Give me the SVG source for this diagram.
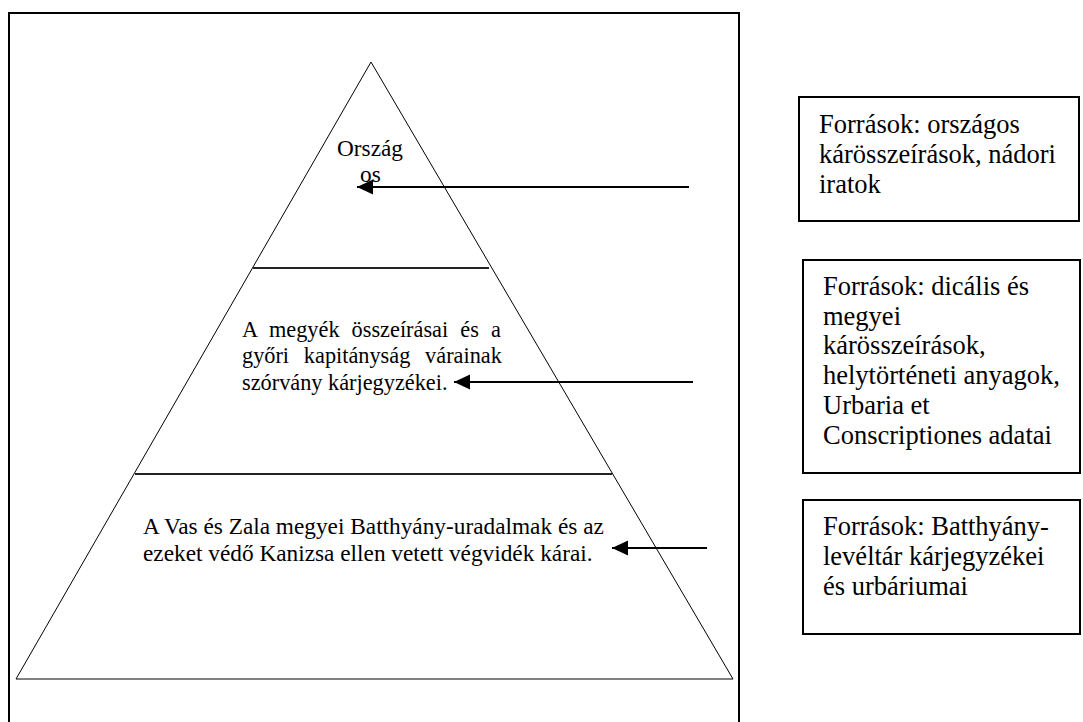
<svg xmlns="http://www.w3.org/2000/svg" width="1083" height="722" viewBox="0 0 1083 722">
<style>
.t{font-family:"Liberation Serif","Times New Roman",serif;fill:#000}
.p{font-size:23.3px}
.m{font-size:22.3px}
.b{font-size:26.5px}
.box{fill:#fff;stroke:#000;stroke-width:2}
.tri{fill:none;stroke:#000;stroke-width:1}
.div{stroke:#222;stroke-width:2}
.arr{stroke:#000;stroke-width:2.2;fill:none;marker-end:url(#ah)}
</style>
<defs>
<marker id="ah" markerUnits="userSpaceOnUse" markerWidth="18" markerHeight="16" refX="16" refY="7.5" orient="auto">
<path d="M0,0 L16,7.5 L0,15 Z" fill="#000"/>
</marker>
</defs>
<rect width="1083" height="722" fill="#fff"/>
<g id="frame"><rect x="9" y="13" width="730" height="720" fill="none" stroke="#000" stroke-width="2"/></g>
<g id="pyramid">
<polygon class="tri" points="371,62 733,679 16,679"/>
<line class="div" x1="253" y1="268" x2="489" y2="268"/>
<line class="div" x1="135" y1="474" x2="612" y2="474"/>
</g>
<g id="level-top">
<text class="t p" x="337" y="156">Ország</text>
<text class="t p" x="360" y="182">os</text>
</g>
<g id="level-middle">
<text class="t m" x="242" y="337" word-spacing="6.5">A megyék összeírásai és a</text>
<text class="t m" x="242" y="363" word-spacing="9.2">győri kapitányság várainak</text>
<text class="t m" x="242" y="390">szórvány kárjegyzékei.</text>
</g>
<g id="level-bottom">
<text class="t p" x="143" y="534">A Vas és Zala megyei Batthyány-uradalmak és az</text>
<text class="t p" x="143" y="561">ezeket védő Kanizsa ellen vetett végvidék kárai.</text>
</g>
<g id="source-1">
<rect class="box" x="799" y="97" width="280" height="124"/>
<text class="t b" x="819" y="133">Források: országos</text>
<text class="t b" x="819" y="163">kárösszeírások, nádori</text>
<text class="t b" x="819" y="193">iratok</text>
</g>
<g id="source-2">
<rect class="box" x="803" y="260" width="277" height="213"/>
<text class="t b" x="823" y="295">Források: dicális és</text>
<text class="t b" x="823" y="324.7">megyei</text>
<text class="t b" x="823" y="354.4">kárösszeírások,</text>
<text class="t b" x="823" y="384">helytörténeti anyagok,</text>
<text class="t b" x="823" y="413.8">Urbaria et</text>
<text class="t b" x="823" y="443.5">Conscriptiones adatai</text>
</g>
<g id="source-3">
<rect class="box" x="803" y="500" width="277" height="134"/>
<text class="t b" x="823" y="535">Források: Batthyány-</text>
<text class="t b" x="823" y="565">levéltár kárjegyzékei</text>
<text class="t b" x="823" y="595">és urbáriumai</text>
</g>
<g id="connectors">
<line class="arr" x1="689" y1="187" x2="357" y2="187"/>
<line class="arr" x1="693" y1="382" x2="454" y2="382"/>
<line class="arr" x1="707" y1="548" x2="612" y2="548"/>
</g>
</svg>
